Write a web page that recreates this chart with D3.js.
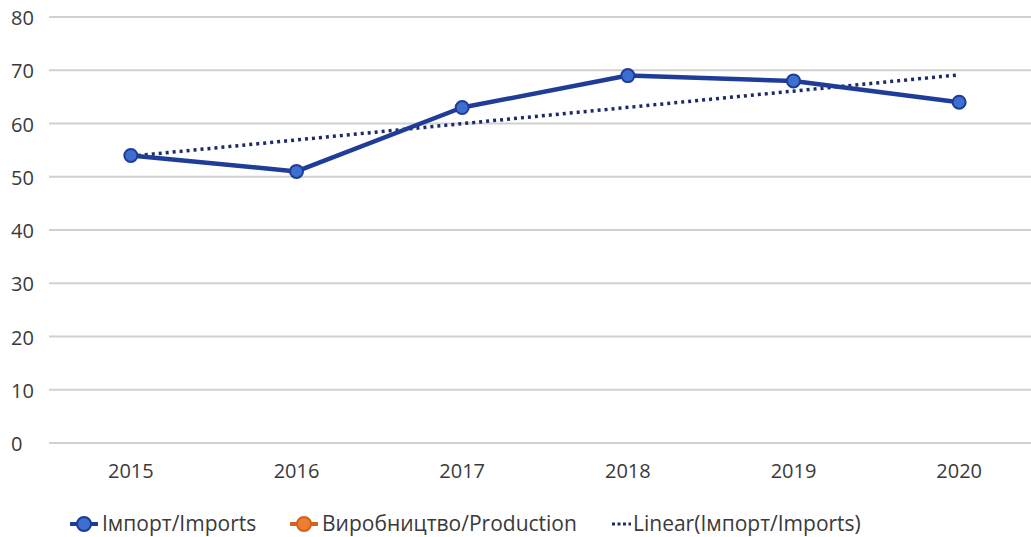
<!DOCTYPE html>
<html>
<head>
<meta charset="utf-8">
<script src="https://cdn.jsdelivr.net/npm/d3@7"></script>
<style>
  html, body { margin: 0; padding: 0; background: #fff; }
  svg text { font-family: "Open Sans", "DejaVu Sans", sans-serif; fill: #3a3a3a; }
</style>
</head>
<body>
<div id="chart"></div>
<script>
// chart data
const years = ['2015', '2016', '2017', '2018', '2019', '2020'];
const imports = [54, 51, 63, 69, 68, 64];
const yTicks = [0, 10, 20, 30, 40, 50, 60, 70, 80];
const legendLabels = ['Імпорт/Imports', 'Виробництво/Production', 'Linear(Імпорт/Imports)'];

const width = 1031;
const height = 537;

const svg = d3.select('#chart')
  .append('svg')
  .attr('width', width)
  .attr('height', height);

// scales
const x = d3.scaleBand()
  .domain(years)
  .range([48, 1042]);

const y = d3.scaleLinear()
  .domain([0, 80])
  .range([443, 17]);

const cx = d => x(d) + x.bandwidth() / 2;

// grid lines
svg.append('g')
  .selectAll('line')
  .data(yTicks)
  .enter()
  .append('line')
  .attr('x1', 49)
  .attr('x2', width)
  .attr('y1', d => y(d))
  .attr('y2', d => y(d))
  .attr('stroke', '#d0d0d0')
  .attr('stroke-width', 2);

// y axis labels (left aligned, as in the source)
const yAxis = svg.append('g')
  .attr('transform', 'translate(11,0)')
  .call(d3.axisLeft(y).tickValues(yTicks).tickSize(0).tickPadding(0));
yAxis.select('.domain').remove();
yAxis.selectAll('text')
  .attr('text-anchor', 'start')
  .attr('dy', '0.38em')
  .style('font-size', '20px')
  .attr('fill', '#3a3a3a');

// x axis labels
const xAxis = svg.append('g')
  .attr('transform', 'translate(0,460)')
  .call(d3.axisBottom(x).tickSize(0).tickPadding(4));
xAxis.select('.domain').remove();
xAxis.selectAll('text')
  .style('font-size', '20px')
  .attr('fill', '#3a3a3a');

// linear trend (least squares on imports)
const idx = imports.map((v, i) => i);
const mx = d3.mean(idx);
const my = d3.mean(imports);
const slope = d3.sum(idx, i => (i - mx) * (imports[i] - my)) / d3.sum(idx, i => (i - mx) * (i - mx));
const intercept = my - slope * mx;

const trend = [0, years.length - 1].map(i => ({ year: years[i], value: intercept + slope * i }));

svg.append('path')
  .datum(trend)
  .attr('fill', 'none')
  .attr('stroke', '#1c2a6b')
  .attr('stroke-width', 3.5)
  .attr('stroke-dasharray', '3,4')
  .attr('d', d3.line().x(d => cx(d.year)).y(d => y(d.value)));

// imports line
const lineData = years.map((yr, i) => ({ year: yr, value: imports[i] }));

svg.append('path')
  .datum(lineData)
  .attr('fill', 'none')
  .attr('stroke', '#1f3c98')
  .attr('stroke-width', 4.5)
  .attr('stroke-linejoin', 'round')
  .attr('d', d3.line().x(d => cx(d.year)).y(d => y(d.value)));

svg.append('g')
  .selectAll('circle')
  .data(lineData)
  .enter()
  .append('circle')
  .attr('cx', d => cx(d.year))
  .attr('cy', d => y(d.value))
  .attr('r', 6.5)
  .attr('fill', '#3d6fd0')
  .attr('stroke', '#1f3c98')
  .attr('stroke-width', 2);

// legend
const legend = svg.append('g').attr('transform', 'translate(0,524)');

const legendItems = [
  { x: 70, type: 'marker', color: '#3d6fd0', stroke: '#1f3c98' },
  { x: 290, type: 'marker', color: '#ed7d31', stroke: '#d0641e' },
  { x: 611, type: 'dots', color: '#1c2a6b' }
];

legendItems.forEach((item, i) => {
  const g = legend.append('g').attr('transform', `translate(${item.x},0)`);
  if (item.type === 'marker') {
    g.append('line')
      .attr('x1', 0).attr('x2', 28)
      .attr('y1', 0).attr('y2', 0)
      .attr('stroke', item.stroke)
      .attr('stroke-width', 4);
    g.append('circle')
      .attr('cx', 14).attr('cy', 0).attr('r', 7)
      .attr('fill', item.color)
      .attr('stroke', item.stroke)
      .attr('stroke-width', 2);
  } else {
    g.append('line')
      .attr('x1', 1).attr('x2', 20)
      .attr('y1', 0).attr('y2', 0)
      .attr('stroke', item.color)
      .attr('stroke-width', 3)
      .attr('stroke-dasharray', '3,2.5');
  }
  g.append('text')
    .attr('x', item.type === 'marker' ? 32 : 22)
    .attr('y', 0)
    .attr('dy', '0.35em')
    .style('font-size', '21px')
    .text(legendLabels[i]);
});
</script>
</body>
</html>
